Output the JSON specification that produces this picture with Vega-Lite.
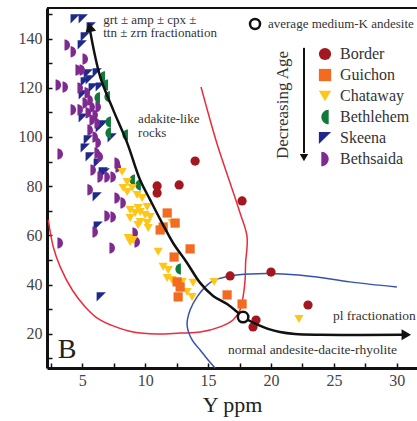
{
  "$schema": "https://vega.github.io/schema/vega-lite/v6.json",
  "width": 370,
  "height": 360,
  "autosize": {"type": "none"},
  "padding": {"left": 47, "top": 8, "right": 0, "bottom": 53},
  "background": "white",
  "resolve": {"axis": {"x": "independent", "y": "independent"}},
  "config": {
    "view": {"stroke": null},
    "axis": {
      "domainColor": "#111", "domainWidth": 3, "tickColor": "#111", "tickWidth": 1.5, "tickSize": -5,
      "labelFont": "Liberation Serif", "labelFontSize": 16, "labelColor": "#444", "labelOverlap": false, "labelFlush": false,
      "titleFont": "Liberation Serif", "titleFontSize": 22, "titleFontWeight": "normal", "titleColor": "#222", "grid": false
    },
    "legend": {
      "orient": "none", "legendX": 270, "legendY": 38, "padding": 0, "symbolSize": 150, "symbolStrokeWidth": 0,
      "labelFont": "Liberation Serif", "labelFontSize": 16, "labelColor": "#333", "rowPadding": 5, "labelOffset": 7
    },
    "text": {"font": "Liberation Serif", "color": "#333", "fontSize": 13}
  },
  "datasets": {
    "pts": [
      {"group": "Skeena", "x": 4.44, "y": 148.0}, {"group": "Skeena", "x": 5.08, "y": 148.0}, {"group": "Skeena", "x": 5.71, "y": 144.7},
      {"group": "Skeena", "x": 5.24, "y": 140.7}, {"group": "Skeena", "x": 5.0, "y": 137.4}, {"group": "Skeena", "x": 5.48, "y": 125.6},
      {"group": "Skeena", "x": 6.19, "y": 126.0}, {"group": "Skeena", "x": 5.63, "y": 123.2}, {"group": "Skeena", "x": 5.24, "y": 122.4},
      {"group": "Skeena", "x": 5.87, "y": 119.9}, {"group": "Skeena", "x": 6.43, "y": 120.3}, {"group": "Skeena", "x": 5.08, "y": 117.1},
      {"group": "Skeena", "x": 5.08, "y": 107.7}, {"group": "Skeena", "x": 6.67, "y": 104.9}, {"group": "Skeena", "x": 6.43, "y": 103.7},
      {"group": "Skeena", "x": 5.48, "y": 98.8}, {"group": "Skeena", "x": 7.38, "y": 99.6}, {"group": "Skeena", "x": 5.24, "y": 95.5},
      {"group": "Skeena", "x": 5.63, "y": 91.9}, {"group": "Skeena", "x": 6.27, "y": 89.4}, {"group": "Skeena", "x": 6.67, "y": 85.8},
      {"group": "Skeena", "x": 6.83, "y": 85.4}, {"group": "Skeena", "x": 6.19, "y": 75.6}, {"group": "Skeena", "x": 6.27, "y": 63.8},
      {"group": "Skeena", "x": 6.51, "y": 35.0},
      {"group": "Bethsaida", "x": 3.81, "y": 137.4}, {"group": "Bethsaida", "x": 4.29, "y": 134.6}, {"group": "Bethsaida", "x": 5.24, "y": 131.7},
      {"group": "Bethsaida", "x": 4.68, "y": 127.2}, {"group": "Bethsaida", "x": 5.0, "y": 127.2}, {"group": "Bethsaida", "x": 3.10, "y": 121.1},
      {"group": "Bethsaida", "x": 3.65, "y": 120.3}, {"group": "Bethsaida", "x": 4.84, "y": 119.9}, {"group": "Bethsaida", "x": 5.40, "y": 117.9},
      {"group": "Bethsaida", "x": 5.63, "y": 115.0}, {"group": "Bethsaida", "x": 5.24, "y": 113.8}, {"group": "Bethsaida", "x": 5.79, "y": 112.2},
      {"group": "Bethsaida", "x": 6.27, "y": 112.2}, {"group": "Bethsaida", "x": 4.29, "y": 111.0}, {"group": "Bethsaida", "x": 4.84, "y": 111.0},
      {"group": "Bethsaida", "x": 5.48, "y": 109.8}, {"group": "Bethsaida", "x": 6.03, "y": 108.9}, {"group": "Bethsaida", "x": 5.79, "y": 106.9},
      {"group": "Bethsaida", "x": 6.19, "y": 105.7}, {"group": "Bethsaida", "x": 5.63, "y": 102.8}, {"group": "Bethsaida", "x": 6.03, "y": 100.0},
      {"group": "Bethsaida", "x": 6.27, "y": 97.6}, {"group": "Bethsaida", "x": 3.25, "y": 93.1}, {"group": "Bethsaida", "x": 6.19, "y": 93.5},
      {"group": "Bethsaida", "x": 6.43, "y": 91.9}, {"group": "Bethsaida", "x": 7.78, "y": 89.4}, {"group": "Bethsaida", "x": 7.86, "y": 87.8},
      {"group": "Bethsaida", "x": 6.98, "y": 83.7}, {"group": "Bethsaida", "x": 7.46, "y": 83.7}, {"group": "Bethsaida", "x": 5.87, "y": 86.6},
      {"group": "Bethsaida", "x": 6.43, "y": 83.7}, {"group": "Bethsaida", "x": 5.63, "y": 78.5}, {"group": "Bethsaida", "x": 7.78, "y": 75.2},
      {"group": "Bethsaida", "x": 8.25, "y": 73.2}, {"group": "Bethsaida", "x": 7.46, "y": 67.5}, {"group": "Bethsaida", "x": 6.98, "y": 67.9},
      {"group": "Bethsaida", "x": 6.03, "y": 61.4}, {"group": "Bethsaida", "x": 3.25, "y": 56.9}, {"group": "Bethsaida", "x": 7.38, "y": 54.9},
      {"group": "Bethsaida", "x": 9.21, "y": 61.0}, {"group": "Bethsaida", "x": 9.37, "y": 57.3},
      {"group": "Bethlehem", "x": 6.59, "y": 124.4}, {"group": "Bethlehem", "x": 6.83, "y": 121.1}, {"group": "Bethlehem", "x": 6.19, "y": 115.9},
      {"group": "Bethlehem", "x": 6.98, "y": 116.3}, {"group": "Bethlehem", "x": 7.06, "y": 106.1}, {"group": "Bethlehem", "x": 7.06, "y": 101.6},
      {"group": "Bethlehem", "x": 8.41, "y": 100.8}, {"group": "Bethlehem", "x": 8.97, "y": 82.5}, {"group": "Bethlehem", "x": 9.44, "y": 80.5},
      {"group": "Bethlehem", "x": 12.62, "y": 46.3},
      {"group": "Chataway", "x": 8.17, "y": 85.8}, {"group": "Chataway", "x": 8.57, "y": 81.7}, {"group": "Chataway", "x": 8.57, "y": 77.6},
      {"group": "Chataway", "x": 8.97, "y": 79.3}, {"group": "Chataway", "x": 8.25, "y": 79.3}, {"group": "Chataway", "x": 9.37, "y": 76.4},
      {"group": "Chataway", "x": 9.76, "y": 75.2}, {"group": "Chataway", "x": 10.16, "y": 71.5}, {"group": "Chataway", "x": 9.44, "y": 71.1},
      {"group": "Chataway", "x": 8.81, "y": 70.3}, {"group": "Chataway", "x": 9.60, "y": 69.5}, {"group": "Chataway", "x": 10.0, "y": 68.3},
      {"group": "Chataway", "x": 10.40, "y": 67.5}, {"group": "Chataway", "x": 9.60, "y": 65.4}, {"group": "Chataway", "x": 10.16, "y": 65.0},
      {"group": "Chataway", "x": 10.24, "y": 63.0}, {"group": "Chataway", "x": 9.21, "y": 69.1}, {"group": "Chataway", "x": 8.81, "y": 67.1},
      {"group": "Chataway", "x": 9.44, "y": 64.2}, {"group": "Chataway", "x": 8.65, "y": 58.9}, {"group": "Chataway", "x": 8.81, "y": 57.3},
      {"group": "Chataway", "x": 9.05, "y": 58.1}, {"group": "Chataway", "x": 12.14, "y": 65.0}, {"group": "Chataway", "x": 11.03, "y": 53.3},
      {"group": "Chataway", "x": 11.43, "y": 47.2}, {"group": "Chataway", "x": 11.83, "y": 45.9}, {"group": "Chataway", "x": 11.75, "y": 42.7},
      {"group": "Chataway", "x": 12.14, "y": 41.9}, {"group": "Chataway", "x": 12.94, "y": 41.1}, {"group": "Chataway", "x": 13.33, "y": 37.0},
      {"group": "Chataway", "x": 13.73, "y": 35.0}, {"group": "Chataway", "x": 13.81, "y": 40.7}, {"group": "Chataway", "x": 15.48, "y": 41.1},
      {"group": "Chataway", "x": 22.22, "y": 26.0},
      {"group": "Guichon", "x": 11.75, "y": 69.1}, {"group": "Guichon", "x": 12.38, "y": 65.0}, {"group": "Guichon", "x": 11.43, "y": 63.4},
      {"group": "Guichon", "x": 11.19, "y": 62.2}, {"group": "Guichon", "x": 13.57, "y": 54.5}, {"group": "Guichon", "x": 12.30, "y": 51.2},
      {"group": "Guichon", "x": 12.54, "y": 41.1}, {"group": "Guichon", "x": 12.78, "y": 39.0}, {"group": "Guichon", "x": 12.62, "y": 35.0},
      {"group": "Guichon", "x": 16.51, "y": 35.8}, {"group": "Guichon", "x": 17.70, "y": 32.1},
      {"group": "Border", "x": 13.97, "y": 90.2}, {"group": "Border", "x": 10.95, "y": 80.1}, {"group": "Border", "x": 10.95, "y": 77.2},
      {"group": "Border", "x": 12.70, "y": 80.5}, {"group": "Border", "x": 17.70, "y": 74.0}, {"group": "Border", "x": 16.75, "y": 43.5},
      {"group": "Border", "x": 20.0, "y": 45.1}, {"group": "Border", "x": 22.94, "y": 31.7}, {"group": "Border", "x": 18.81, "y": 25.6},
      {"group": "Border", "x": 18.57, "y": 22.8}
    ],
    "red": [
      {"i": 1, "x": 2.30, "y": 66.3}, {"i": 2, "x": 2.70, "y": 55.3}, {"i": 3, "x": 3.25, "y": 47.2}, {"i": 4, "x": 4.21, "y": 37.8},
      {"i": 5, "x": 5.24, "y": 30.9}, {"i": 6, "x": 6.19, "y": 26.4}, {"i": 7, "x": 7.46, "y": 23.2}, {"i": 8, "x": 9.05, "y": 20.7},
      {"i": 9, "x": 10.95, "y": 19.9}, {"i": 10, "x": 12.78, "y": 20.3}, {"i": 11, "x": 14.37, "y": 20.7}, {"i": 12, "x": 15.95, "y": 22.8},
      {"i": 13, "x": 16.98, "y": 25.6}, {"i": 14, "x": 17.54, "y": 29.7}, {"i": 15, "x": 17.78, "y": 35.0}, {"i": 16, "x": 17.94, "y": 41.9},
      {"i": 17, "x": 17.98, "y": 48.8}, {"i": 18, "x": 18.1, "y": 59.3}, {"i": 19, "x": 17.54, "y": 69.1}, {"i": 20, "x": 16.75, "y": 81.3},
      {"i": 21, "x": 15.79, "y": 95.9}, {"i": 22, "x": 15.0, "y": 109.8}, {"i": 23, "x": 14.44, "y": 120.3}
    ],
    "blue": [
      {"i": 1, "x": 15.56, "y": 6.1}, {"i": 2, "x": 15.0, "y": 9.35}, {"i": 3, "x": 14.37, "y": 13.4}, {"i": 4, "x": 13.73, "y": 17.5},
      {"i": 5, "x": 13.33, "y": 23.6}, {"i": 6, "x": 13.57, "y": 29.7}, {"i": 7, "x": 14.13, "y": 35.0}, {"i": 8, "x": 14.92, "y": 39.8},
      {"i": 9, "x": 15.56, "y": 41.9}, {"i": 10, "x": 16.75, "y": 43.5}, {"i": 11, "x": 18.33, "y": 44.3}, {"i": 12, "x": 20.95, "y": 44.3},
      {"i": 13, "x": 23.65, "y": 43.1}, {"i": 14, "x": 26.27, "y": 41.1}, {"i": 15, "x": 30.0, "y": 39.0}
    ],
    "up": [
      {"i": 1, "x": 17.78, "y": 26.8}, {"i": 2, "x": 17.30, "y": 28.9}, {"i": 3, "x": 16.51, "y": 32.1}, {"i": 4, "x": 15.40, "y": 35.4},
      {"i": 5, "x": 14.37, "y": 40.7}, {"i": 6, "x": 13.33, "y": 48.8}, {"i": 7, "x": 12.22, "y": 56.9}, {"i": 8, "x": 11.35, "y": 65.0},
      {"i": 9, "x": 10.40, "y": 74.4}, {"i": 10, "x": 9.60, "y": 82.5}, {"i": 11, "x": 8.57, "y": 97.6}, {"i": 12, "x": 7.46, "y": 111.0},
      {"i": 13, "x": 6.43, "y": 124.4}, {"i": 14, "x": 5.63, "y": 143.0}
    ],
    "down": [
      {"i": 1, "x": 17.78, "y": 26.8}, {"i": 2, "x": 18.33, "y": 25.2}, {"i": 3, "x": 18.97, "y": 23.6}, {"i": 4, "x": 19.76, "y": 22.0},
      {"i": 5, "x": 20.71, "y": 20.7}, {"i": 6, "x": 21.9, "y": 19.9}, {"i": 7, "x": 23.89, "y": 19.6}, {"i": 8, "x": 30.48, "y": 19.6}
    ]
  },
  "layer": [
    {"data": {"name": "red"}, "mark": {"type": "line", "color": "#ec2a3c", "strokeWidth": 1.5, "interpolate": "catmull-rom"},
      "encoding": {
        "x": {"field": "x", "type": "quantitative", "scale": {"domain": [2.2, 31.6], "nice": false, "zero": false},
          "axis": {"title": "Y ppm", "orient": "bottom", "labelFont": "Liberation Serif", "labelFontSize": 16, "labelPadding": 9, "values": [2.5, 5, 7.5, 10, 12.5, 15, 17.5, 20, 22.5, 25, 27.5, 30], "labelExpr": "datum.value % 5 == 0 ? datum.label : ''", "titlePadding": 6}},
        "y": {"field": "y", "type": "quantitative", "scale": {"domain": [6.1, 152.4], "nice": false, "zero": false},
          "axis": {"title": null, "orient": "left", "labelFont": "Liberation Serif", "labelFontSize": 16, "labelPadding": 10, "values": [10, 20, 30, 40, 50, 60, 70, 80, 90, 100, 110, 120, 130, 140, 150], "labelExpr": "datum.value % 20 == 0 ? datum.label : ''"}},
        "order": {"field": "i", "type": "quantitative"}}},
    {"data": {"name": "blue"}, "mark": {"type": "line", "color": "#3652b0", "strokeWidth": 1.5, "interpolate": "catmull-rom"},
      "encoding": {"x": {"field": "x", "type": "quantitative", "axis": null}, "y": {"field": "y", "type": "quantitative", "axis": null}, "order": {"field": "i", "type": "quantitative"}}},
    {"data": {"name": "pts"}, "mark": {"type": "point", "filled": true, "opacity": 1, "size": 85, "strokeWidth": 0},
      "encoding": {
        "x": {"field": "x", "type": "quantitative", "axis": null}, "y": {"field": "y", "type": "quantitative", "axis": null},
        "color": {"field": "group", "type": "nominal", "title": null,
          "scale": {"domain": ["Border", "Guichon", "Chataway", "Bethlehem", "Skeena", "Bethsaida"], "range": ["#a3181f", "#f36b21", "#ffc61a", "#10793c", "#1d2a8c", "#7e2a90"]}},
        "shape": {"field": "group", "type": "nominal", "title": null,
          "scale": {"domain": ["Border", "Guichon", "Chataway", "Bethlehem", "Skeena", "Bethsaida"],
            "range": ["circle", "square", "triangle-down", "M0.6,-1.2A1.2,1.2,0,0,0,0.6,1.2Z", "M-1,-1L1,-1L-1,1Z", "M-0.6,-1.2A1.2,1.2,0,0,1,-0.6,1.2Z"]}}
      }},
    {"data": {"name": "up"}, "mark": {"type": "line", "color": "#111", "strokeWidth": 2.5, "interpolate": "catmull-rom"},
      "encoding": {"x": {"field": "x", "type": "quantitative", "axis": null}, "y": {"field": "y", "type": "quantitative", "axis": null}, "order": {"field": "i", "type": "quantitative"}}},
    {"data": {"name": "down"}, "mark": {"type": "line", "color": "#111", "strokeWidth": 2.5, "interpolate": "catmull-rom"},
      "encoding": {"x": {"field": "x", "type": "quantitative", "axis": null}, "y": {"field": "y", "type": "quantitative", "axis": null}, "order": {"field": "i", "type": "quantitative"}}},
    {"data": {"values": [{"k": 1}]}, "mark": {"type": "point", "shape": "triangle-up", "filled": true, "color": "#111", "size": 120, "angle": -12, "opacity": 1},
      "encoding": {"x": {"datum": 5.6, "type": "quantitative", "axis": null}, "y": {"datum": 144.6, "type": "quantitative", "axis": null}}},
    {"data": {"values": [{"k": 1}]}, "mark": {"type": "point", "shape": "triangle-right", "filled": true, "color": "#111", "size": 120, "opacity": 1},
      "encoding": {"x": {"datum": 30.75, "type": "quantitative", "axis": null}, "y": {"datum": 19.6, "type": "quantitative", "axis": null}}},
    {"data": {"values": [{"k": 1}]}, "mark": {"type": "point", "shape": "circle", "filled": false, "fill": "white", "stroke": "#111", "strokeWidth": 2.5, "size": 110, "opacity": 1},
      "encoding": {"x": {"datum": 17.78, "type": "quantitative", "axis": null}, "y": {"datum": 26.8, "type": "quantitative", "axis": null}}},
    {"data": {"values": [{"k": 1}]}, "mark": {"type": "point", "shape": "circle", "filled": false, "fill": "white", "stroke": "#111", "strokeWidth": 2.5, "size": 100, "opacity": 1},
      "encoding": {"x": {"datum": 18.73, "type": "quantitative", "axis": null}, "y": {"datum": 145.9, "type": "quantitative", "axis": null}}},
    {"data": {"values": [{"k": 1}]}, "mark": {"type": "rule", "color": "#111", "strokeWidth": 2},
      "encoding": {"x": {"datum": 2.2, "type": "quantitative", "axis": null}, "x2": {"datum": 31.6}, "y": {"datum": 152.4, "type": "quantitative", "axis": null}}},
    {"data": {"values": [{"k": 1}]}, "mark": {"type": "rule", "color": "#111", "strokeWidth": 2},
      "encoding": {"x": {"datum": 22.62, "type": "quantitative", "axis": null}, "y": {"datum": 136.2, "type": "quantitative", "axis": null}, "y2": {"datum": 93.5}}},
    {"data": {"values": [{"k": 1}]}, "mark": {"type": "point", "shape": "triangle-down", "filled": true, "color": "#111", "size": 70, "opacity": 1},
      "encoding": {"x": {"datum": 22.62, "type": "quantitative", "axis": null}, "y": {"datum": 91.6, "type": "quantitative", "axis": null}}},
    {"data": {"values": [{"k": 1}]}, "mark": {"type": "text", "text": "Decreasing Age", "angle": 270, "fontSize": 17, "align": "center", "baseline": "middle"},
      "encoding": {"x": {"datum": 20.95, "type": "quantitative", "axis": null}, "y": {"datum": 113.0, "type": "quantitative", "axis": null}}},
    {"data": {"values": [{"k": 1}]}, "mark": {"type": "text", "text": "grt ± amp ± cpx ±", "align": "left", "baseline": "middle", "fontSize": 13},
      "encoding": {"x": {"datum": 6.67, "type": "quantitative", "axis": null}, "y": {"datum": 147.7, "type": "quantitative", "axis": null}}},
    {"data": {"values": [{"k": 1}]}, "mark": {"type": "text", "text": "ttn ± zrn fractionation", "align": "left", "baseline": "middle", "fontSize": 13},
      "encoding": {"x": {"datum": 6.67, "type": "quantitative", "axis": null}, "y": {"datum": 142.2, "type": "quantitative", "axis": null}}},
    {"data": {"values": [{"k": 1}]}, "mark": {"type": "text", "text": "average medium-K andesite", "align": "left", "baseline": "middle", "fontSize": 13},
      "encoding": {"x": {"datum": 19.76, "type": "quantitative", "axis": null}, "y": {"datum": 145.9, "type": "quantitative", "axis": null}}},
    {"data": {"values": [{"k": 1}]}, "mark": {"type": "text", "text": "adakite-like", "align": "left", "baseline": "middle", "fontSize": 13},
      "encoding": {"x": {"datum": 9.44, "type": "quantitative", "axis": null}, "y": {"datum": 107.1, "type": "quantitative", "axis": null}}},
    {"data": {"values": [{"k": 1}]}, "mark": {"type": "text", "text": "rocks", "align": "left", "baseline": "middle", "fontSize": 13},
      "encoding": {"x": {"datum": 9.44, "type": "quantitative", "axis": null}, "y": {"datum": 101.5, "type": "quantitative", "axis": null}}},
    {"data": {"values": [{"k": 1}]}, "mark": {"type": "text", "text": "pl fractionation", "align": "left", "baseline": "middle", "fontSize": 13.5},
      "encoding": {"x": {"datum": 24.92, "type": "quantitative", "axis": null}, "y": {"datum": 27.2, "type": "quantitative", "axis": null}}},
    {"data": {"values": [{"k": 1}]}, "mark": {"type": "text", "text": "normal andesite-dacite-rhyolite", "align": "center", "baseline": "middle", "fontSize": 13.5},
      "encoding": {"x": {"datum": 23.3, "type": "quantitative", "axis": null}, "y": {"datum": 13.4, "type": "quantitative", "axis": null}}},
    {"data": {"values": [{"k": 1}]}, "mark": {"type": "text", "text": "B", "align": "center", "baseline": "middle", "fontSize": 28, "color": "#222"},
      "encoding": {"x": {"datum": 3.8, "type": "quantitative", "axis": null}, "y": {"datum": 13.6, "type": "quantitative", "axis": null}}}
  ]
}
